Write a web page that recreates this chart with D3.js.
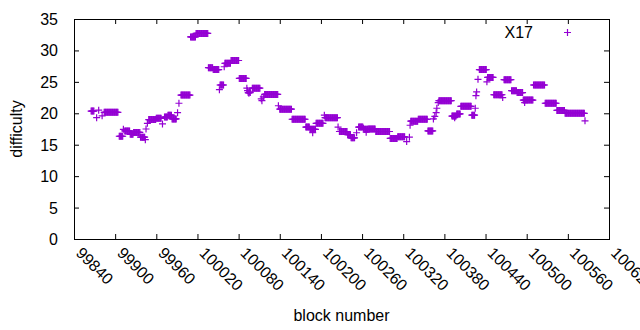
<!DOCTYPE html>
<html lang="en">
<head>
    <meta charset="UTF-8">
    <title>difficulty</title>
    <script src="https://d3js.org/d3.v7.min.js"></script>
    <style>
    html, body {
        margin: 0;
        background: #fff;
    }
    svg {
        display: block;
        font-family: "Liberation Sans", Arial, sans-serif;
    }
    </style>
</head>
<body>
<div id="chart"></div>
<script>

// runs of blocks that share one difficulty value (start block, end block, value)
var runStart = [99865, 99873, 99876, 99881, 99884, 99906, 99912, 99914, 99922, 99927,
    99937, 99944, 99945, 99947, 99949, 99960, 99969, 99972, 99977, 99983,
    99991, 99993, 99996, 100010, 100018, 100036, 100043, 100052, 100053, 100059,
    100060, 100069, 100081, 100092, 100093, 100094, 100095, 100096, 100097, 100100,
    100113, 100114, 100116, 100118, 100138, 100140, 100158, 100178, 100184, 100188,
    100193, 100205, 100206, 100225, 100227, 100239, 100244, 100252, 100255, 100262,
    100263, 100266, 100269, 100280, 100301, 100312, 100325, 100329, 100330, 100331,
    100342, 100356, 100364, 100366, 100368, 100369, 100371, 100372, 100391, 100395,
    100398, 100404, 100420, 100425, 100426, 100427, 100429, 100431, 100442, 100443,
    100452, 100465, 100467, 100478, 100486, 100495, 100497, 100510, 100527, 100544,
    100556, 100585];
var runEnd = [99869, 99873, 99876, 99881, 99904, 99911, 99912, 99921, 99926, 99936,
    99943, 99944, 99945, 99947, 99959, 99967, 99969, 99976, 99982, 99989,
    99991, 99993, 100009, 100017, 100035, 100042, 100051, 100052, 100058, 100059,
    100068, 100080, 100091, 100092, 100093, 100094, 100095, 100096, 100097, 100111,
    100113, 100114, 100116, 100137, 100138, 100157, 100177, 100183, 100192, 100188,
    100203, 100205, 100224, 100225, 100238, 100243, 100249, 100252, 100261, 100262,
    100268, 100266, 100279, 100300, 100311, 100322, 100325, 100329, 100330, 100341,
    100355, 100363, 100364, 100366, 100368, 100369, 100371, 100390, 100397, 100395,
    100403, 100419, 100424, 100425, 100426, 100427, 100429, 100441, 100442, 100451,
    100464, 100465, 100477, 100485, 100494, 100509, 100497, 100526, 100543, 100555,
    100584, 100585];
var runValue = [20.35, 19.3, 20.5, 19.6, 20.15, 16.35, 17.45, 17.2, 16.65, 16.95,
    16.2, 15.8, 17.5, 18.4, 19.0, 19.2, 18.3, 19.4, 19.7, 19.1,
    20.1, 21.6, 22.9, 32.15, 32.7, 27.25, 26.95, 23.75, 24.5, 27.4,
    27.95, 28.4, 25.55, 24.0, 23.6, 23.3, 23.2, 23.4, 23.3, 24.0,
    22.3, 22.0, 22.6, 23.0, 21.2, 20.65, 19.05, 17.8, 17.45, 16.9,
    18.4, 19.7, 19.3, 17.8, 17.1, 16.6, 16.1, 16.9, 17.8, 17.6,
    17.45, 17.0, 17.5, 17.1, 16.0, 16.25, 15.5, 16.2, 18.1, 18.75,
    19.05, 17.2, 19.1, 19.5, 20.1, 20.8, 21.7, 22.0, 19.55, 19.3,
    19.9, 21.1, 19.7, 20.8, 22.8, 23.4, 25.4, 26.95, 25.0, 25.7,
    22.95, 22.5, 25.35, 23.6, 23.3, 22.1, 21.7, 24.5, 21.6, 20.45,
    20.0, 18.8];

var xTicks = d3.range(99840, 100621, 60);
var yTicks = d3.range(0, 36, 5);
var seriesName = "X17";

var width = 640, height = 330;
var plotL = 74, plotR = 609, plotT = 19, plotB = 239;
var color = "#9400d3";

// one point per block
var points = [];
runStart.forEach(function (s, i) {
    for (var b = s; b <= runEnd[i]; b++) {
        points.push({block: b, value: runValue[i]});
    }
});

var x = d3.scaleLinear().domain([99840, 100620]).range([plotL, plotR]);
var y = d3.scaleLinear().domain([0, 35]).range([plotB, plotT]);

var svg = d3.select("#chart").append("svg")
    .attr("width", width)
    .attr("height", height);

var tickLen = 5;

// ticks, inward, mirrored on the other side
svg.append("g")
    .attr("transform", "translate(0," + plotB + ")")
    .call(d3.axisBottom(x).tickValues(xTicks).tickSize(-tickLen).tickFormat(""));
svg.append("g")
    .attr("transform", "translate(0," + plotT + ")")
    .call(d3.axisTop(x).tickValues(xTicks).tickSize(-tickLen).tickFormat(""));
svg.append("g")
    .attr("transform", "translate(" + plotL + ",0)")
    .call(d3.axisLeft(y).tickValues(yTicks).tickSize(-tickLen).tickFormat(""));
svg.append("g")
    .attr("transform", "translate(" + plotR + ",0)")
    .call(d3.axisRight(y).tickValues(yTicks).tickSize(-tickLen).tickFormat(""));

svg.selectAll(".domain").remove();
svg.selectAll(".tick line").attr("stroke", "#000").attr("stroke-width", 1);

svg.append("rect")
    .attr("x", plotL + 0.5)
    .attr("y", plotT + 0.5)
    .attr("width", plotR - plotL)
    .attr("height", plotB - plotT)
    .attr("fill", "none")
    .attr("stroke", "#000")
    .attr("stroke-width", 1);

// y tick labels
svg.append("g").selectAll("text")
    .data(yTicks)
    .enter().append("text")
    .attr("x", plotL - 16)
    .attr("y", function (d) { return y(d) + 6; })
    .attr("text-anchor", "end")
    .attr("font-size", 16)
    .attr("fill", "#000")
    .text(function (d) { return d; });

// x tick labels, rotated
svg.append("g").selectAll("text")
    .data(xTicks)
    .enter().append("text")
    .attr("transform", function (d) {
        return "translate(" + (x(d) + 1) + "," + (plotB + 15) + ") rotate(45)";
    })
    .attr("text-anchor", "start")
    .attr("font-size", 16)
    .attr("fill", "#000")
    .text(function (d) { return d; });

// axis titles
svg.append("text")
    .attr("transform", "translate(22," + ((plotT + plotB) / 2) + ") rotate(-90)")
    .attr("text-anchor", "middle")
    .attr("font-size", 16)
    .attr("fill", "#000")
    .text("difficulty");

svg.append("text")
    .attr("x", (plotL + plotR) / 2)
    .attr("y", 321)
    .attr("text-anchor", "middle")
    .attr("font-size", 16)
    .attr("fill", "#000")
    .text("block number");

var plus = "M-3.5,0H3.5M0,-3.5V3.5";

svg.append("g").selectAll("path")
    .data(points)
    .enter().append("path")
    .attr("d", plus)
    .attr("transform", function (d) {
        return "translate(" + x(d.block) + "," + y(d.value) + ")";
    })
    .attr("fill", "none")
    .attr("stroke", color)
    .attr("stroke-width", 1.2);

// legend
svg.append("text")
    .attr("x", 533)
    .attr("y", 38)
    .attr("text-anchor", "end")
    .attr("font-size", 16)
    .attr("fill", "#000")
    .text(seriesName);

svg.append("path")
    .attr("d", plus)
    .attr("transform", "translate(567.5,32.5)")
    .attr("fill", "none")
    .attr("stroke", color)
    .attr("stroke-width", 1.2);

</script>
</body>
</html>
